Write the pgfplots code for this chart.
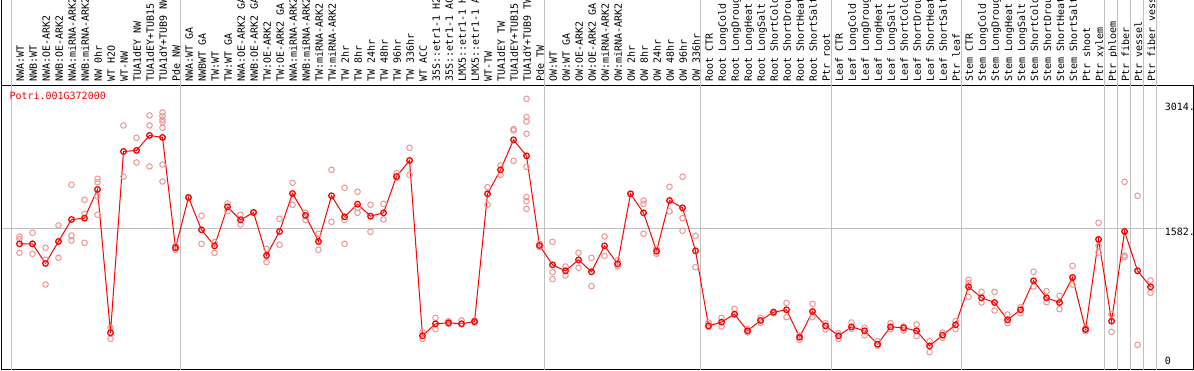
\documentclass[border=0pt]{standalone}
\usepackage{fontspec}
\setmainfont{DejaVu Sans Mono}
\usepackage{pgfplots}
\pgfplotsset{compat=1.18}
\definecolor{meanred}{RGB}{255,0,0}
\definecolor{reppink}{RGB}{236,150,150}
\definecolor{gridgray}{RGB}{192,192,192}

\begin{document}
\begin{tikzpicture}[x=1pt,y=1pt]
\begin{axis}[
  at={(1.5pt,0.5pt)}, anchor=south west,
  scale only axis, width=1192pt, height=284pt,
  xmin=-1.3846, xmax=90.308, ymin=-32, ymax=3211,
  axis line style={black, line width=1pt},
  xtick={0,...,87},
  xticklabels={NWA:WT,NWB:WT,NWA:OE-ARK2,NWB:OE-ARK2,NWA:miRNA-ARK2,NWB:miRNA-ARK2,NW 0hr,WT H2O,WT-NW,TUA1dEY NW,TUA1dEY+TUB15,TUA1dY+TUB9 NW,Pde NW,
  NWA:WT GA,NWBWT GA,TW:WT,TW:WT GA,NWA:OE-ARK2 GA,NWB:OE-ARK2 GA,TW:OE-ARK2,TW:OE-ARK2 GA,NWA:miRNA-ARK2,NWB:miRNA-ARK2,TW:miRNA-ARK2,TW:miRNA-ARK2,TW 2hr,TW 8hr,TW 24hr,TW 48hr,TW 96hr,TW 336hr,WT ACC,35S::etr1-1 H2,35S::etr1-1 AC,LMX5::etr1-1 H,LMX5::etr1-1 A,WT-TW,TUA1dEY TW,TUA1dEY+TUB15,TUA1dY+TUB9 TW,Pde TW,
  OW:WT,OW:WT GA,OW:OE-ARK2,OW:OE-ARK2 GA,OW:miRNA-ARK2,OW:miRNA-ARK2,OW 2hr,OW 8hr,OW 24hr,OW 48hr,OW 96hr,OW 336hr,
  Root CTR,Root LongCold,Root LongDroug,Root LongHeat,Root LongSalt,Root ShortCold,Root ShortDrou,Root ShortHeat,Root ShortSalt,Ptr root,
  Leaf CTR,Leaf LongCold,Leaf LongDroug,Leaf LongHeat,Leaf LongSalt,Leaf ShortCold,Leaf ShortDrou,Leaf ShortHeat,Leaf ShortSalt,Ptr leaf,
  Stem CTR,Stem LongCold,Stem LongDroug,Stem LongHeat,Stem LongSalt,Stem ShortCold,Stem ShortDrou,Stem ShortHeat,Stem ShortSalt,Ptr shoot,Ptr xylem,
  Ptr phloem,Ptr fiber,Ptr vessel,Ptr fiber vessel},
  xticklabel pos=upper,
  major tick length=0pt,
  xticklabel style={rotate=90, anchor=west, font=\fontsize{10}{12}\selectfont, inner xsep=3.5pt, inner ysep=0pt, text height=9.5pt, text depth=0.6pt},
  ytick=\empty,
  clip=false,
]
\pgfplotsinvokeforeach{-0.58,12.42,40.42,52.42,62.42,72.42,83.42,84.42,85.42,86.42,87.42}{
  \draw[gridgray, line width=1pt] (axis cs:#1,-32) -- (axis cs:#1,4500);
}
\draw[gridgray, line width=1pt] (axis cs:-1.3846,1582) -- (axis cs:88.05,1582);

\addplot[only marks, mark=o, mark size=2.8pt, color=reppink, mark options={line width=1pt}] table {
x y
0 1487
0 1457
0 1301
1 1529
1 1289
1 1403
2 1358
2 1221
2 939
3 1613
3 1243
4 2077
4 1498
4 1441
5 1906
5 1746
5 1415
6 2146
6 2108
6 1944
6 1735
7 444
7 318
8 2755
8 2172
9 2614
9 2332
10 2869
10 2755
10 2287
11 2903
11 2861
11 2820
11 2793
11 2728
11 2309
11 2115
12 1384
12 1335
13 1932
14 1723
14 1403
15 1422
15 1300
16 1864
16 1776
17 1735
17 1624
18 1761
19 1346
19 1194
20 1689
20 1392
21 2100
21 1849
22 1757
22 1677
23 1518
23 1335
24 2248
24 1655
25 2043
25 1677
25 1403
26 1997
26 1814
26 1757
27 1849
27 1540
28 1860
28 1681
29 2210
29 2157
30 2500
30 2191
31 394
31 318
32 558
32 429
33 520
33 490
34 528
34 490
35 528
35 505
36 2050
36 1849
37 2298
37 2191
38 2713
38 2698
38 2351
39 3059
39 2850
39 2800
39 2660
39 2283
39 1936
39 1891
39 1803
40 1403
40 1365
41 1426
41 1080
41 1000
42 1144
42 1042
43 1300
43 1129
44 1243
44 920
45 1487
45 1266
46 1213
46 1148
47 1974
48 1898
48 1860
48 1518
49 1350
49 1289
50 2054
50 1773
51 2169
51 1696
51 1552
52 1495
52 1137
53 505
53 452
54 558
54 459
55 661
55 596
56 429
56 391
57 558
57 501
58 627
58 611
59 729
59 566
60 356
60 307
61 718
61 566
62 497
62 425
63 383
63 318
64 505
64 433
65 444
65 360
66 292
66 238
67 497
67 429
68 459
68 413
69 482
69 349
70 292
70 166
71 390
71 330
72 520
72 429
73 992
73 954
73 798
74 855
74 733
75 855
75 642
76 596
76 497
77 680
77 611
78 1084
78 916
79 863
79 737
80 809
80 657
81 1152
81 939
82 444
82 406
83 1643
83 1380
83 1304
84 596
84 398
85 2111
85 1270
85 1251
86 1952
86 250
87 985
87 844
};

\addplot[color=meanred, line width=1pt, mark=o, mark size=2.8pt, mark options={line width=1.3pt, meanred}] table {
x y
0 1403
1 1403
2 1179
3 1430
4 1681
5 1696
6 2024
7 387
8 2458
9 2469
10 2641
11 2618
12 1358
13 1932
14 1563
15 1380
16 1826
17 1677
18 1761
19 1270
20 1544
21 1978
22 1727
23 1430
24 1952
25 1712
26 1856
27 1719
28 1757
29 2172
30 2355
31 353
32 490
33 501
34 490
35 516
36 1974
37 2248
38 2591
39 2408
40 1384
41 1163
42 1095
43 1220
44 1084
45 1380
46 1175
47 1974
48 1757
49 1320
50 1898
51 1814
52 1323
53 467
54 509
55 600
56 410
57 528
58 623
59 650
60 337
61 630
62 467
63 353
64 455
65 410
66 257
67 455
68 444
69 410
70 238
71 360
72 478
73 912
74 787
75 733
76 535
77 650
78 981
79 787
80 733
81 1019
82 425
83 1453
84 520
85 1544
86 1095
87 912
};

\node[anchor=north west, inner sep=0pt, font=\fontsize{10}{12}\selectfont] at (axis cs:88.08,3014) {3014.};
\node[anchor=north west, inner sep=0pt, font=\fontsize{10}{12}\selectfont] at (axis cs:88.08,1582) {1582.};
\node[anchor=south west, inner sep=0pt, font=\fontsize{10}{12}\selectfont, yshift=2pt] at (axis cs:88.08,0) {0};
\end{axis}
\draw[black, line width=1pt] (1.5,0) -- (1.5,370);
\node[anchor=base west, inner sep=0pt, text=meanred, font=\fontsize{10}{12}\selectfont] at (9.3,270) {Potri.001G372000};
\pgfresetboundingbox
\useasboundingbox (0,0) rectangle (1194,370);
\end{tikzpicture}
\end{document}
